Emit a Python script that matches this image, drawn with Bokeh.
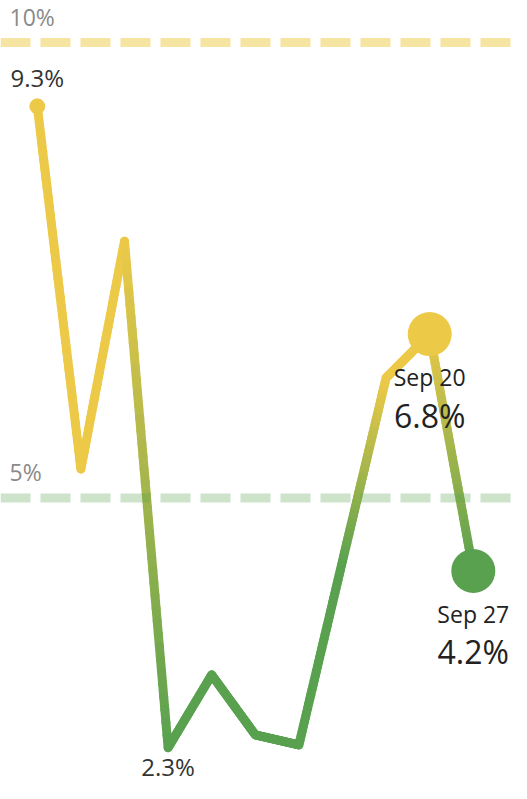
import numpy as np
from bokeh.plotting import figure
from bokeh.models import Range1d, Span, ColumnDataSource
from bokeh.core.properties import value
from bokeh.embed import file_html
from bokeh.resources import INLINE

# ---- data ----
weeks = ["Jul 19", "Jul 26", "Aug 2", "Aug 9", "Aug 16", "Aug 23", "Aug 30",
         "Sep 6", "Sep 13", "Sep 20", "Sep 27"]
rate = [9.3, 5.32, 7.82, 2.26, 3.06, 2.4, 2.29, 4.31, 6.32, 6.8, 4.2]
ref_levels = [10, 5]
ref_labels = ["10%", "5%"]
threshold = 5.0

YELLOW = "#EDC948"
GREEN = "#59A14F"
FONT = "Open Sans"

x = np.arange(len(rate), dtype=float)
y = np.array(rate)

W, H = 511, 783
px_per_x = 43.6
px_per_y = 91.1
x0 = -36.8 / px_per_x
y_top = 10 + 42.1 / px_per_y

p = figure(width=W, height=H, output_backend="svg", toolbar_location=None,
           x_range=Range1d(x0, x0 + W / px_per_x),
           y_range=Range1d(y_top - H / px_per_y, y_top),
           min_border=0, outline_line_color=None)
p.axis.visible = False
p.grid.visible = False
p.background_fill_color = None
p.border_fill_color = None

# reference lines
for lvl, lab, col, a in zip(ref_levels, ref_labels, [YELLOW, GREEN], [0.5, 0.3]):
    p.add_layout(Span(location=lvl, dimension="width", line_color=col,
                      line_alpha=a, line_width=9, line_dash="30 10"))
    p.text(x=[x0], y=[lvl], text=[lab], x_offset=9, y_offset=-26,
           text_font=value(FONT), text_font_size="23px", text_color="#8a8a8a",
           text_align="left", text_baseline="middle")

# gradient line: colour per point by threshold, interpolated along segments
def hex2rgb(h):
    return np.array([int(h[i:i + 2], 16) for i in (1, 3, 5)], dtype=float)

pt_col = [hex2rgb(YELLOW) if v >= threshold else hex2rgb(GREEN) for v in rate]
N = 40
xs0, ys0, xs1, ys1, cols = [], [], [], [], []
for i in range(len(x) - 1):
    t = np.linspace(0, 1, N + 1)
    xx = x[i] + (x[i + 1] - x[i]) * t
    yy = y[i] + (y[i + 1] - y[i]) * t
    for k in range(N):
        tm = (t[k] + t[k + 1]) / 2
        c = pt_col[i] * (1 - tm) + pt_col[i + 1] * tm
        xs0.append(xx[k]); ys0.append(yy[k]); xs1.append(xx[k + 1]); ys1.append(yy[k + 1])
        cols.append("#%02x%02x%02x" % tuple(int(round(v)) for v in c))
src = ColumnDataSource(dict(x0=xs0, y0=ys0, x1=xs1, y1=ys1, c=cols))
p.segment(x0="x0", y0="y0", x1="x1", y1="y1", line_color="c", line_width=9,
          line_cap="round", line_join="round", source=src)

# start dot
p.scatter(x=[x[0]], y=[y[0]], size=15, color=YELLOW)
# end dots
end_cols = [YELLOW if v >= threshold else GREEN for v in rate[-2:]]
p.scatter(x=x[-2:], y=y[-2:], size=44, color=end_cols, line_color=None)

# value labels
imin = int(np.argmin(y))
p.text(x=[x[0]], y=[y[0]], text=["%.1f%%" % rate[0]], y_offset=-29,
       text_font=value(FONT), text_font_size="24px", text_color="#333333",
       text_align="center", text_baseline="middle")
p.text(x=[x[imin]], y=[y[imin]], text=["%.1f%%" % rate[imin]], y_offset=19,
       text_font=value(FONT), text_font_size="24px", text_color="#333333",
       text_align="center", text_baseline="middle")
p.text(x=x[-2:], y=y[-2:], text=weeks[-2:], y_offset=43,
       text_font=value(FONT), text_font_size="23px", text_color="#222222",
       text_align="center", text_baseline="middle")
p.text(x=x[-2:], y=y[-2:], text=["%.1f%%" % v for v in rate[-2:]], y_offset=81,
       text_font=value(FONT), text_font_size="32px", text_color="#222222",
       text_align="center", text_baseline="middle")

open("out.html", "w").write(file_html(p, INLINE))
